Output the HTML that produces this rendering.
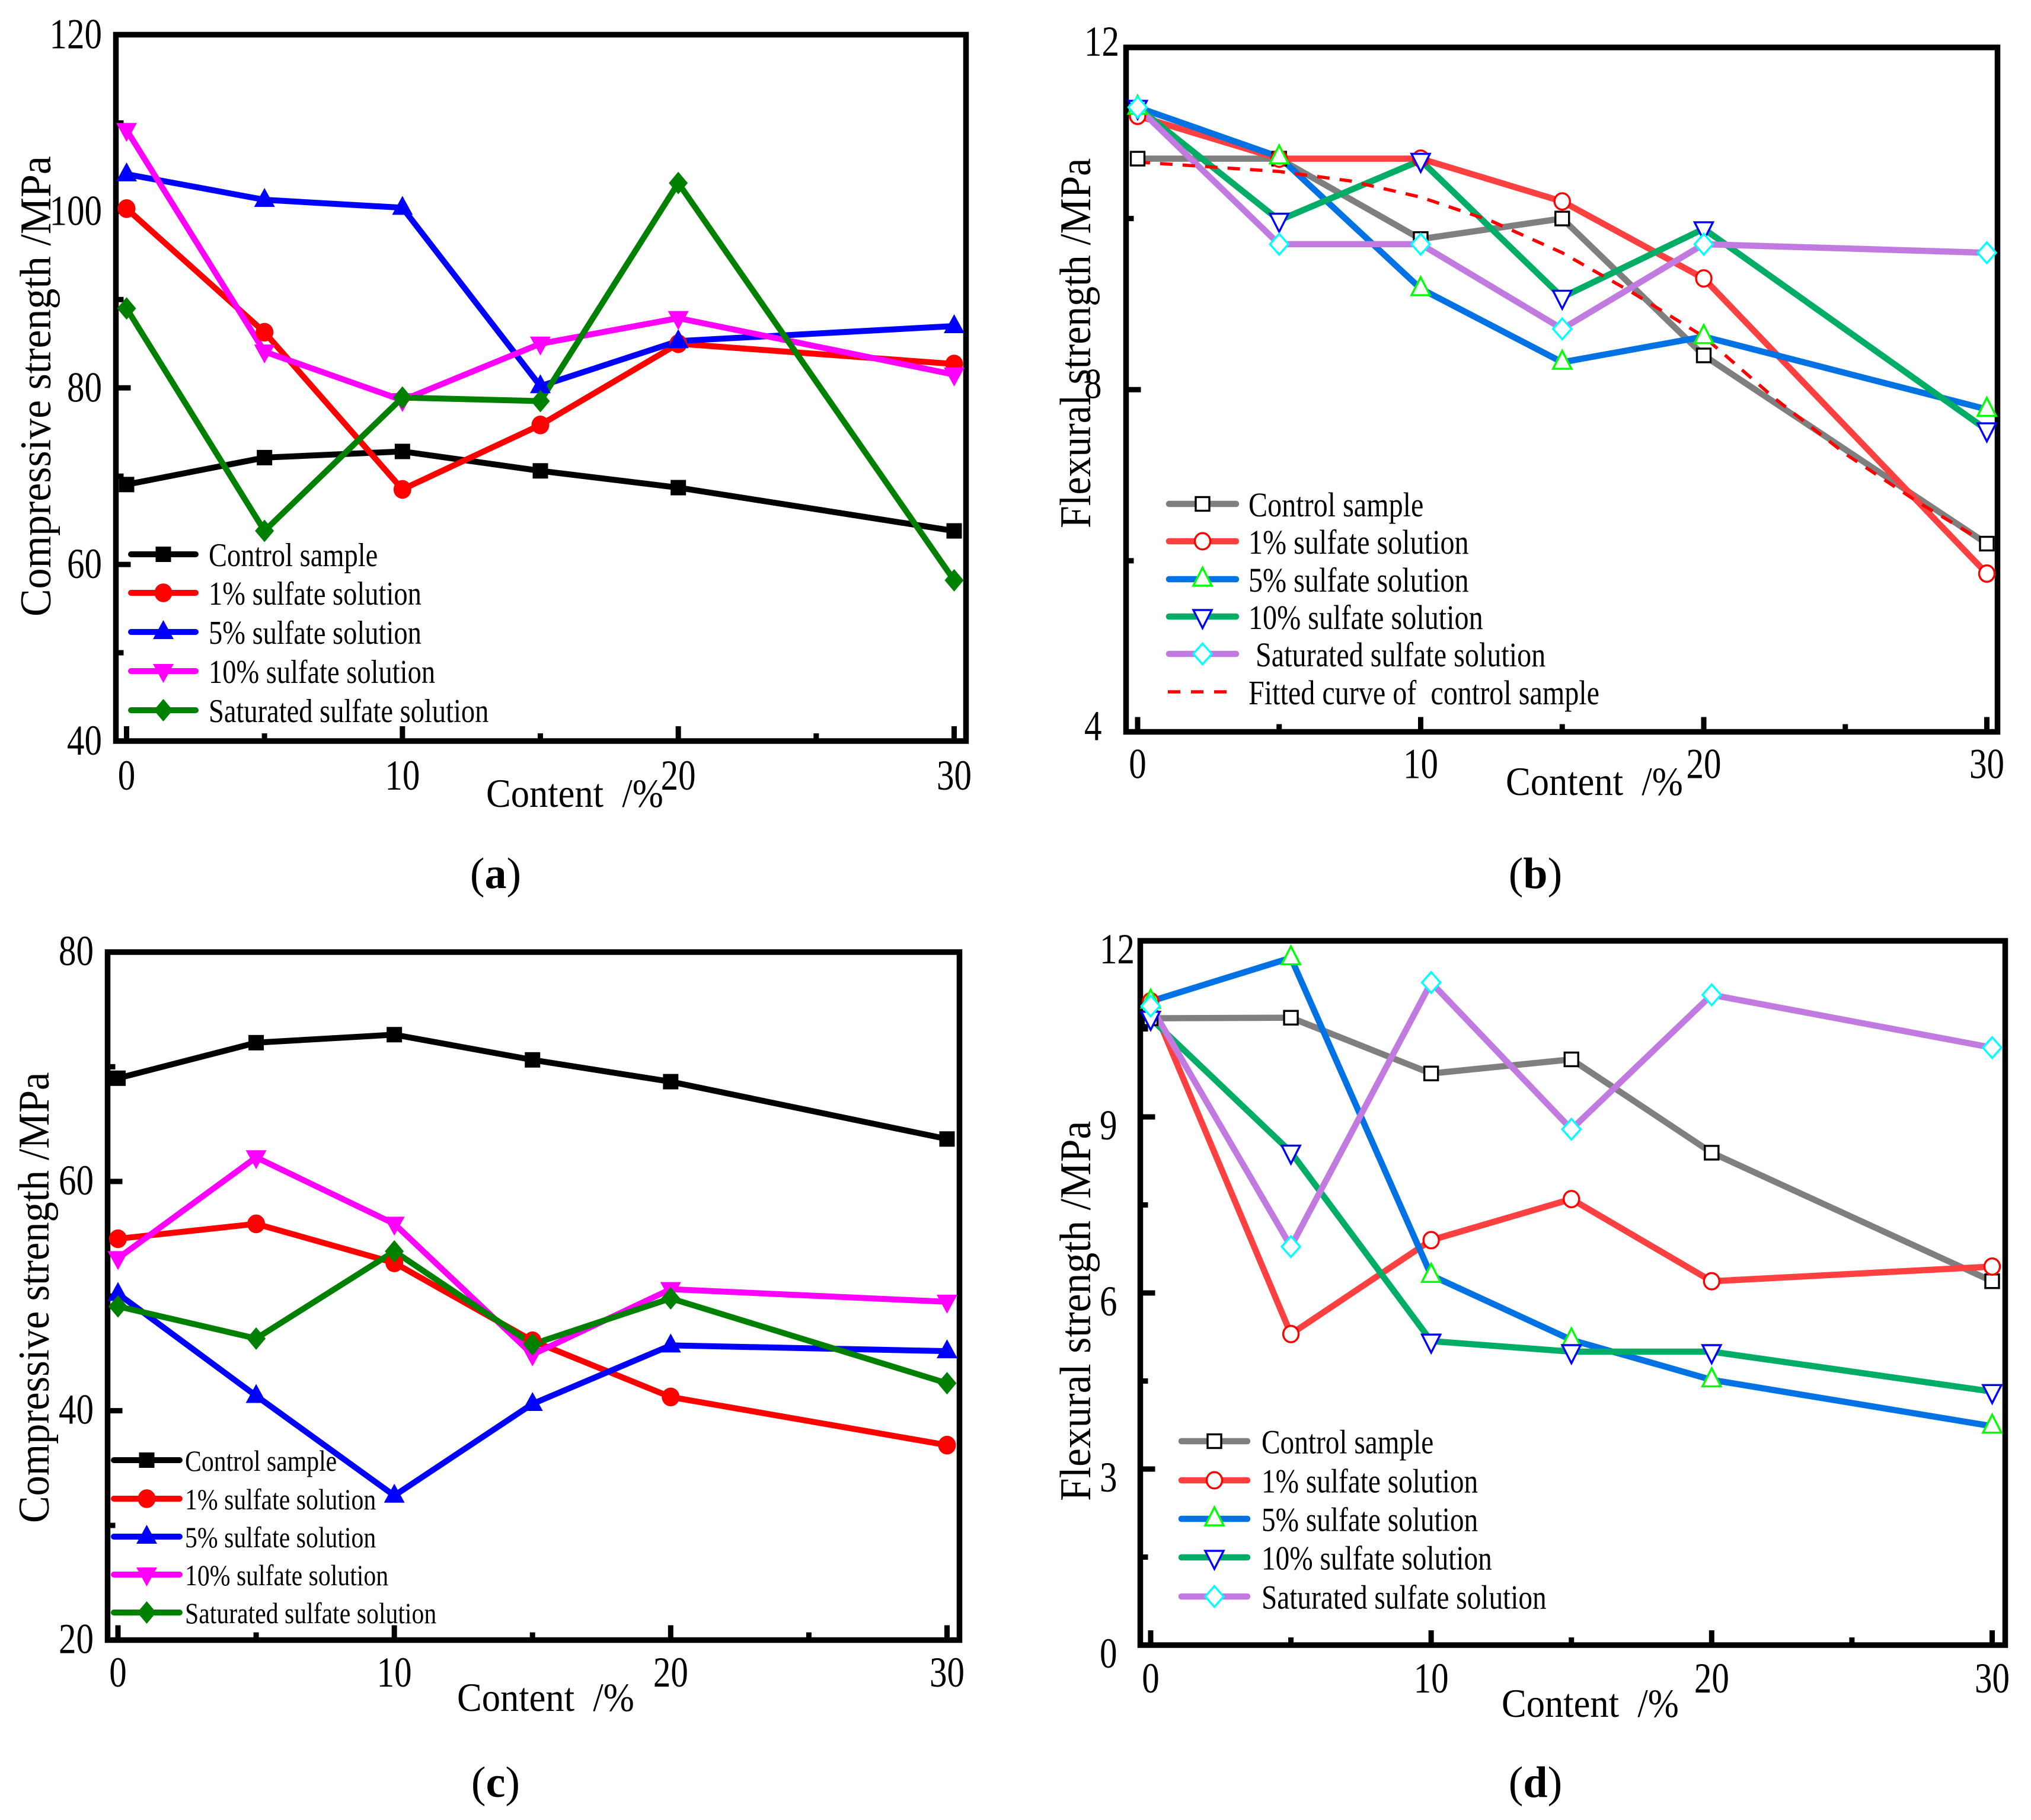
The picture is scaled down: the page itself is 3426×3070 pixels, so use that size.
<!DOCTYPE html>
<html lang="en">
<head>
<meta charset="utf-8">
<title>Compressive and flexural strength versus content</title>
<style>
html,body{margin:0;padding:0;background:#fff;}
svg{display:block;}
text{font-family:"Liberation Serif",serif;fill:#000;white-space:pre;}
</style>
</head>
<body>
<svg id="figure" xmlns="http://www.w3.org/2000/svg" width="3426" height="3070" viewBox="0 0 3426 3070"></svg>
<script>
// ---------- data ----------
const contents = [0, 5, 10, 15, 20, 30];
const fitContents = [0, 5, 7.5, 10, 12.5, 15, 17.5, 20, 22.5, 25, 27.5, 30];
const xMajorTicks = [0, 10, 20, 30];
const xMinorTicks = [5, 15, 25];
const xTickLabels = ["0", "10", "20", "30"];

const legendLabels = ["Control sample", "1% sulfate solution", "5% sulfate solution", "10% sulfate solution", "Saturated sulfate solution"];
const legendLabelsB = ["Control sample", "1% sulfate solution", "5% sulfate solution", "10% sulfate solution", " Saturated sulfate solution", "Fitted curve of  control sample"];

const aControl = [69.05, 72.1, 72.8, 70.6, 68.7, 63.8];
const aOne = [100.3, 86.3, 68.5, 75.8, 85.0, 82.7];
const aFive = [104.2, 101.3, 100.4, 80.2, 85.3, 87.0];
const aTen = [109.2, 84.1, 78.6, 85.0, 87.9, 81.5];
const aSaturated = [89.0, 63.8, 78.9, 78.5, 103.2, 58.2];
const aYMajor = [40, 60, 80, 100, 120];
const aYMinor = [50, 70, 90, 110];

const bControl = [10.7, 10.7, 9.76, 10.0, 8.4, 6.2];
const bOne = [11.2, 10.7, 10.7, 10.2, 9.3, 5.85];
const bFive = [11.3, 10.72, 9.18, 8.32, 8.62, 7.77];
const bTen = [11.3, 9.98, 10.68, 9.08, 9.88, 7.53];
const bSaturated = [11.3, 9.7, 9.7, 8.71, 9.7, 9.6];
const bFit = [10.66, 10.55, 10.44, 10.25, 9.97, 9.6, 9.13, 8.62, 7.9, 7.25, 6.7, 6.2];
const bYMajor = [4, 8, 12];
const bYMinor = [6, 10];

const cControl = [69.0, 72.1, 72.8, 70.6, 68.7, 63.7];
const cOne = [55.0, 56.3, 52.9, 46.1, 41.2, 37.0];
const cFive = [50.2, 41.3, 32.6, 40.6, 45.7, 45.2];
const cTen = [53.3, 62.1, 56.3, 44.9, 50.6, 49.5];
const cSaturated = [49.1, 46.3, 53.9, 45.8, 49.8, 42.4];
const cYMajor = [20, 40, 60, 80];
const cYMinor = [30, 50, 70];

const dControl = [10.68, 10.69, 9.74, 9.98, 8.39, 6.2];
const dOne = [10.97, 5.3, 6.9, 7.6, 6.2, 6.45];
const dFive = [10.97, 11.71, 6.3, 5.2, 4.52, 3.73];
const dTen = [10.68, 8.4, 5.18, 5.0, 5.0, 4.32];
const dSaturated = [10.89, 6.79, 11.29, 8.79, 11.08, 10.18];
const dYMajor = [0, 3, 6, 9, 12];
const dYMinor = [1.5, 4.5, 7.5, 10.5];

// ---------- drawing helpers ----------
const NS = "http://www.w3.org/2000/svg";
const root = document.getElementById("figure");

function make(parent, tag, attrs) {
  const el = document.createElementNS(NS, tag);
  for (const k in attrs) el.setAttribute(k, attrs[k]);
  parent.appendChild(el);
  return el;
}

function label(parent, str, x, y, fs, sx, anchor, name) {
  const t = make(parent, "text", {
    transform: "translate(" + x + " " + y + ") scale(" + sx + " 1)",
    "font-size": fs,
    "text-anchor": anchor
  });
  t.textContent = str;
  
  
  return t;
}

function marker(parent, kind, cx, cy, style, name) {
  const attrs = { fill: style.fill, stroke: style.stroke, "stroke-width": style.sw, "stroke-linejoin": "miter" };
  const s = style.size;
  let el;
  if (kind === "square") {
    el = make(parent, "rect", Object.assign({ x: cx - s.square, y: cy - s.square, width: 2 * s.square, height: 2 * s.square }, attrs));
  } else if (kind === "circle") {
    el = make(parent, "ellipse", Object.assign({ cx: cx, cy: cy, rx: s.circle, ry: s.circle + 0.8 }, attrs));
  } else if (kind === "up") {
    el = make(parent, "polygon", Object.assign({ points: [cx, cy - s.triTall, cx - s.tri, cy + s.triShort, cx + s.tri, cy + s.triShort].join(" ") }, attrs));
  } else if (kind === "down") {
    el = make(parent, "polygon", Object.assign({ points: [cx, cy + s.triTall, cx - s.tri, cy - s.triShort, cx + s.tri, cy - s.triShort].join(" ") }, attrs));
  } else {
    el = make(parent, "polygon", Object.assign({ points: [cx, cy - s.diamondH, cx - s.diamondW, cy, cx, cy + s.diamondH, cx + s.diamondW, cy].join(" ") }, attrs));
  }
  
  
  return el;
}

const filledSize = { square: 13, circle: 15, tri: 17.5, triTall: 20, triShort: 12, diamondW: 16, diamondH: 19 };
const hollowSize = { square: 11.5, circle: 13, tri: 15.5, triTall: 19.5, triShort: 11, diamondW: 15.5, diamondH: 17.5 };
const kinds = ["square", "circle", "up", "down", "diamond"];
const seriesKeys = ["control", "one-percent", "five-percent", "ten-percent", "saturated"];
const solidColors = ["#000000", "#ff0000", "#0000ff", "#ff00ff", "#008000"];
const hollowLineColors = ["#7f7f7f", "#ff4040", "#0072e3", "#00ad66", "#c17be0"];
const hollowMarkerColors = ["#000000", "#ff0000", "#00ff00", "#0000ff", "#00ffff"];

function styleFor(panel, i) {
  if (panel.solid) {
    return { line: solidColors[i], fill: solidColors[i], stroke: solidColors[i], sw: 0, size: filledSize };
  }
  return { line: hollowLineColors[i], fill: "#ffffff", stroke: hollowMarkerColors[i], sw: 3.4, size: hollowSize };
}

function drawPanel(panel) {
  const g = make(root, "g", {});
  
  

  const xScale = function (v) { return panel.x0 + (v / 30) * (panel.x30 - panel.x0); };
  const yScale = function (v) { return panel.bottom - ((v - panel.yMin) / (panel.yMax - panel.yMin)) * (panel.bottom - panel.top); };

  // frame
  const frame = make(g, "rect", { x: panel.left, y: panel.top, width: panel.right - panel.left, height: panel.bottom - panel.top, fill: "none", stroke: "#000", "stroke-width": 9.5 });
  
  

  // x ticks
  xMajorTicks.forEach(function (v, i) {
    const t = make(g, "line", { x1: xScale(v), x2: xScale(v), y1: panel.bottom, y2: panel.bottom - 25, stroke: "#000", "stroke-width": 9 });
    
    
    label(g, xTickLabels[i], xScale(v), panel.bottom + panel.xLabelDy, 72, 0.82, "middle", "x-tick-label");
  });
  xMinorTicks.forEach(function (v) {
    const t = make(g, "line", { x1: xScale(v), x2: xScale(v), y1: panel.bottom, y2: panel.bottom - 13, stroke: "#000", "stroke-width": 9 });
    
    
  });

  // y ticks
  panel.yMajor.forEach(function (v) {
    const t = make(g, "line", { x1: panel.left, x2: panel.left + 25, y1: yScale(v), y2: yScale(v), stroke: "#000", "stroke-width": 9 });
    
    
    label(g, String(v), panel.yLabelX, yScale(v) + panel.yLabelDy, 72, 0.82, panel.yLabelAnchor, "y-tick-label");
  });
  panel.yMinor.forEach(function (v) {
    const t = make(g, "line", { x1: panel.left, x2: panel.left + 13, y1: yScale(v), y2: yScale(v), stroke: "#000", "stroke-width": 9 });
    
    
  });

  // titles
  const yt = label(g, panel.yTitle, 0, 0, 74, panel.yTitleSx, "start", "y-axis-title");
  yt.setAttribute("transform", "translate(" + panel.yTitleX + " " + panel.yTitleY + ") rotate(-90) scale(" + panel.yTitleSx + " 1)");
  label(g, "Content  /%", panel.xTitleX, panel.xTitleY, 68, 0.92, "start", "x-axis-title");

  // series
  panel.series.forEach(function (values, i) {
    const st = styleFor(panel, i);
    const pts = contents.map(function (c, k) { return xScale(c) + "," + yScale(values[k]); }).join(" ");
    const line = make(g, "polyline", { points: pts, fill: "none", stroke: st.line, "stroke-width": panel.lineWidth, "stroke-linejoin": "round", "stroke-linecap": "round" });
    
    
  });
  if (panel.fit) {
    const fitPts = fitContents.map(function (c, k) { return xScale(c) + "," + yScale(panel.fit[k]); }).join(" ");
    const fitLine = make(g, "polyline", { points: fitPts, fill: "none", stroke: "#ff0000", "stroke-width": 5.5, "stroke-dasharray": "21 17" });
    
    
  }
  panel.series.forEach(function (values, i) {
    const st = styleFor(panel, i);
    values.forEach(function (v, k) {
      marker(g, kinds[i], xScale(contents[k]), yScale(v), st, 'point-' + seriesKeys[i]);
    });
  });

  // legend
  panel.legendLabels.forEach(function (text, i) {
    const rowY = panel.legendY[i];
    const row = make(g, "g", {});
    
    
    if (i < 5) {
      const st = styleFor(panel, i);
      const ln = make(row, "line", { x1: panel.legendX1, x2: panel.legendX2, y1: rowY, y2: rowY, stroke: st.line, "stroke-width": panel.lineWidth, "stroke-linecap": "round" });
      
      
      marker(row, kinds[i], (panel.legendX1 + panel.legendX2) / 2, rowY, st, 'legend-marker');
    } else {
      const dash = make(row, "line", { x1: panel.legendX1 - 2, x2: panel.legendX2 - 16, y1: rowY, y2: rowY, stroke: "#ff0000", "stroke-width": 5.5, "stroke-dasharray": "21 18" });
      
      
    }
    label(row, text, panel.legendTextX, rowY + panel.legendFs * 0.36, panel.legendFs, panel.legendSx, "start", "legend-label");
  });

  // sub-figure caption
  const cap = make(g, "text", { x: panel.capX, y: panel.capY, "font-size": 74, "text-anchor": "middle" });
  
  
  const open = make(cap, "tspan", {});
  open.textContent = "(";
  const letter = make(cap, "tspan", { "font-weight": "bold" });
  letter.textContent = panel.id;
  const close = make(cap, "tspan", {});
  close.textContent = ")";
}

drawPanel({
  id: "a", solid: true, series: [aControl, aOne, aFive, aTen, aSaturated],
  left: 195.5, right: 1629.5, top: 58.5, bottom: 1250, x0: 213.5, x30: 1609.5,
  yMin: 40, yMax: 120, yMajor: aYMajor, yMinor: aYMinor,
  yLabelX: 172, yLabelAnchor: "end", yLabelDy: 23, xLabelDy: 82,
  yTitle: "Compressive strength /MPa", yTitleX: 85, yTitleY: 1040, yTitleSx: 0.945,
  xTitleX: 820, xTitleY: 1361, lineWidth: 10,
  legendLabels: legendLabels, legendY: [935, 1000, 1066, 1132, 1198], legendX1: 221, legendX2: 330, legendTextX: 352, legendFs: 56, legendSx: 0.83,
  capX: 836, capY: 1498
});

drawPanel({
  id: "b", solid: false, series: [bControl, bOne, bFive, bTen, bSaturated], fit: bFit,
  left: 1899.5, right: 3369.5, top: 80, bottom: 1234.5, x0: 1919, x30: 3351.5,
  yMin: 4, yMax: 12, yMajor: bYMajor, yMinor: bYMinor,
  yLabelX: 1829, yLabelAnchor: "start", yLabelDy: 14, xLabelDy: 78,
  yTitle: "Flexural strength /MPa", yTitleX: 1839, yTitleY: 891, yTitleSx: 0.915,
  xTitleX: 2540, xTitleY: 1341, lineWidth: 10.5,
  legendLabels: legendLabelsB, legendY: [850, 913, 977, 1040, 1103, 1167], legendX1: 1972, legendX2: 2085, legendTextX: 2106, legendFs: 58, legendSx: 0.83,
  capX: 2590, capY: 1498
});

drawPanel({
  id: "c", solid: true, series: [cControl, cOne, cFive, cTen, cSaturated],
  left: 181.5, right: 1618.5, top: 1606, bottom: 2766.5, x0: 199, x30: 1597.5,
  yMin: 20, yMax: 80, yMajor: cYMajor, yMinor: cYMinor,
  yLabelX: 158, yLabelAnchor: "end", yLabelDy: 22, xLabelDy: 78.5,
  yTitle: "Compressive strength /MPa", yTitleX: 82, yTitleY: 2569, yTitleSx: 0.925,
  xTitleX: 771, xTitleY: 2886, lineWidth: 10,
  legendLabels: legendLabels, legendY: [2463, 2528, 2592, 2656, 2720], legendX1: 192, legendX2: 303, legendTextX: 312, legendFs: 50, legendSx: 0.835,
  capX: 836, capY: 3031
});

drawPanel({
  id: "d", solid: false, series: [dControl, dOne, dFive, dTen, dSaturated],
  left: 1923.5, right: 3382.5, top: 1587, bottom: 2775, x0: 1941, x30: 3360.5,
  yMin: 0, yMax: 12, yMajor: dYMajor, yMinor: dYMinor,
  yLabelX: 1855, yLabelAnchor: "start", yLabelDy: 38, xLabelDy: 80,
  yTitle: "Flexural strength /MPa", yTitleX: 1839, yTitleY: 2532, yTitleSx: 0.94,
  xTitleX: 2533, xTitleY: 2896, lineWidth: 10.5,
  legendLabels: legendLabels, legendY: [2431, 2497, 2562, 2627, 2693], legendX1: 1993, legendX2: 2104, legendTextX: 2128, legendFs: 57, legendSx: 0.83,
  capX: 2590, capY: 3031
});
</script>
</body>
</html>
